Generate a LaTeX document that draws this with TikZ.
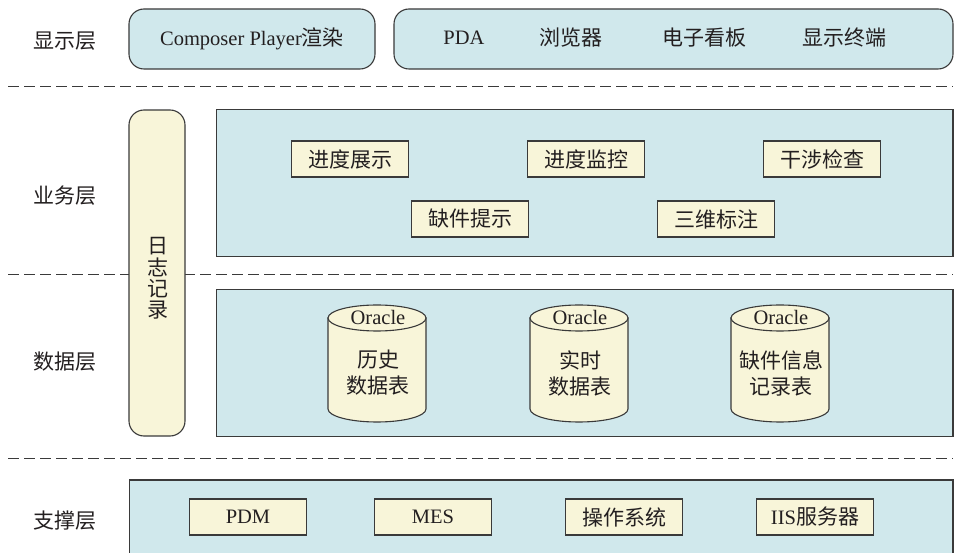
\documentclass[tikz,border=0pt]{standalone}
\usepackage{fontspec}
\setmainfont{Liberation Serif}
\newfontfamily\cjk{Noto Sans CJK SC}
\usetikzlibrary{shapes.geometric,calc}
\definecolor{panelblue}{HTML}{D0E8EC}
\definecolor{cream}{HTML}{F8F5D9}
\definecolor{ink}{HTML}{231F20}
\definecolor{edge}{HTML}{3A3A3A}
\tikzset{
  x=1pt,y=-1pt,
  every node/.style={text=ink,font=\fontsize{20.5}{26}\selectfont,inner sep=0pt,outer sep=0pt},
  zh/.style={font=\fontsize{21}{26}\selectfont\cjk},
  panel/.style={draw=edge,line width=1.1pt,fill=panelblue,minimum width=#1},
  roundpanel/.style={panel=#1,rounded corners=15pt,minimum height=60pt},
  smallbox/.style={draw=edge,line width=1.1pt,fill=cream,minimum width=117pt,minimum height=36pt},
  divider/.style={draw=edge,line width=1pt,dash pattern=on 10.5pt off 5.5pt},
  dbbody/.style={minimum width=98pt,minimum height=117pt},
  dblid/.style={ellipse,draw=edge,line width=1.1pt,fill=cream,minimum width=98pt,minimum height=26pt},
  dbside/.style={draw=edge,line width=1.1pt,fill=cream},
}
\newcommand{\drawdb}[1]{%
  \node[dbbody] (#1) at (\dbx,363.5) {};
  \path[dbside] ($(#1.north west)+(0,13)$) -- ($(#1.south west)+(0,-13)$)
    arc[start angle=180,end angle=360,x radius=49pt,y radius=13pt]
    -- ($(#1.north east)+(0,13)$) -- cycle;
  \node[dblid] (#1lid) at (\dbx,318) {};
}
\begin{document}
\begin{tikzpicture}
\path[use as bounding box] (0,0) rectangle (962,553);
\clip (0,0) rectangle (962,553);
\fill[white] (0,0) rectangle (962,553);
% dividers
\coordinate (d1a) at (8,87);  \coordinate (d1b) at (953,87);
\coordinate (d2a) at (8,275); \coordinate (d2b) at (953,275);
\coordinate (d3a) at (8,459); \coordinate (d3b) at (953,459);
\draw[divider] (d1a) -- (d1b);
\draw[divider] (d2a) -- (d2b);
\draw[divider] (d3a) -- (d3b);
% layer labels
\node[zh] (l1) at (65,41) {显示层};
\node[zh] (l2) at (65,196) {业务层};
\node[zh] (l3) at (65,362) {数据层};
\node[zh] (l4) at (65,521) {支撑层};
% display layer
\node[roundpanel=246pt] (player) at (252,39) {Composer Player{\cjk\fontsize{21}{26}\selectfont 渲染}};
\node[roundpanel=559pt] (term) at (673.5,39) {};
\node (t1) at (464,38) {PDA};
\node[zh] (t2) at (571,38) {浏览器};
\node[zh] (t3) at (704,38) {电子看板};
\node[zh] (t4) at (844,38) {显示终端};
% log column
\node[draw=edge,line width=1.1pt,fill=cream,rounded corners=15pt,minimum width=56pt,minimum height=326pt] (log) at (157,273) {};
\node[align=center,font=\fontsize{21}{21.3}\selectfont\cjk] (logtext) at (157.5,278.5) {日\\志\\记\\录};
% business layer
\node[panel=736.5pt,minimum height=147pt] (biz) at (584.75,183.3) {};
\node[smallbox,zh] (b1) at (350.2,159) {进度展示};
\node[smallbox,zh] (b2) at (586,159) {进度监控};
\node[smallbox,zh] (b3) at (822,159) {干涉检查};
\node[smallbox,zh] (b4) at (470.2,219) {缺件提示};
\node[smallbox,zh] (b5) at (716.2,219) {三维标注};
% data layer
\node[panel=736.5pt,minimum height=146.5pt] (data) at (584.75,363) {};
\def\dbx{377}\drawdb{c1}
\def\dbx{579}\drawdb{c2}
\def\dbx{780}\drawdb{c3}
\node (o1) at (378,317) {Oracle};
\node (o2) at (580,317) {Oracle};
\node (o3) at (781,317) {Oracle};
\node[align=center,zh] (n1) at (378,373) {历史\\数据表};
\node[align=center,zh] (n2) at (580,373) {实时\\数据表};
\node[align=center,zh] (n3) at (781,373) {缺件信息\\记录表};
% support layer
\node[panel=823.5pt,minimum height=84pt] (sup) at (541.25,522) {};
\node[smallbox] (s1) at (248,517) {PDM};
\node[smallbox] (s2) at (433,517) {MES};
\node[smallbox,zh] (s3) at (624,517) {操作系统};
\node[smallbox] (s4) at (815,517) {IIS{\cjk\fontsize{21}{26}\selectfont 服务器}};
\end{tikzpicture}
\end{document}
